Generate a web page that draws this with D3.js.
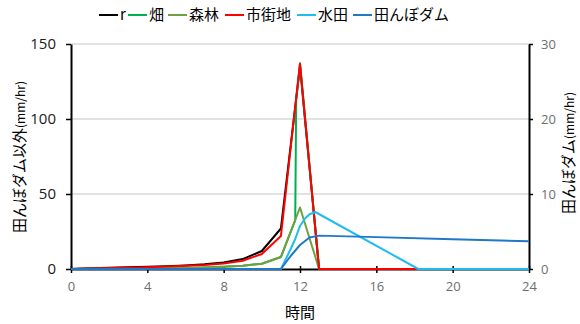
<!DOCTYPE html>
<html>
<head>
<meta charset="utf-8">
<script src="https://cdn.jsdelivr.net/npm/d3@7"></script>
<style>
  body { margin: 0; background: #fff; }
  svg { display: block; font-family: "Noto Sans CJK JP", "Noto Sans", sans-serif; }
</style>
</head>
<body>
<svg id="chart" width="580" height="324"></svg>
<script>
// Hourly time axis shared by the hourly series
const hours = [0,1,2,3,4,5,6,7,8,9,10,11,12,13,14,15,16,17,18,19,20,21,22,23,24];

// r : rainfall (mm/hr)
const rValues = [0,0.5,0.8,1.1,1.5,1.9,2.4,3.1,4.3,6.6,12,27,135,0,0,0,0,0,0,0,0,0,0,0,0];

// 森林 (forest) runoff
const forestValues = [0,0.1,0.2,0.3,0.4,0.5,0.7,1.0,1.5,2.2,3.5,8,41,0,0,0,0,0,0,0,0,0,0,0,0];

// 市街地 (urban) runoff
const urbanValues = [0,0.3,0.6,0.9,1.2,1.6,2.1,2.7,3.6,5.5,10,22,137,0,0,0,0,0,0,0,0,0,0,0,0];

// 畑 (field) runoff
const fieldTimes  = [0,1,2,3,4,5,6,7,8,9,10,11,11.75,11.8,12,13,24];
const fieldValues = [0,0.1,0.2,0.3,0.4,0.5,0.7,1.0,1.5,2.2,3.5,8,32.5,113,137,0,0];

// 水田 (paddy) runoff
const paddyTimes  = [0,11,11.25,11.5,11.75,12,12.25,12.5,12.8,18.2,24];
const paddyValues = [0,0,6.5,13,20,28.7,33.5,36.5,38,0,0];

// 田んぼダム (paddy dam) runoff, right axis
const damTimes  = [0,11,11.5,12,12.5,13,16,20,24];
const damValues = [0,0,1.7,3.2,4.2,4.45,4.25,3.98,3.7];

// Axis ticks
const xTicks = [0,4,8,12,16,20,24];
const yLeftTicks = [0,50,100,150];
const yRightTicks = [0,10,20,30];

const seriesNames  = ["r","畑","森林","市街地","水田","田んぼダム"];
const seriesColors = ["#000000","#00b050","#70a040","#ff0000","#1ebcf0","#1f78c8"];

const svg = d3.select("#chart");
const plot = { left: 71, right: 529, top: 44, bottom: 269 };

const x = d3.scaleLinear().domain([0,24]).range([plot.left, plot.right]);
const yL = d3.scaleLinear().domain([0,150]).range([plot.bottom, plot.top]);
const yR = d3.scaleLinear().domain([0,30]).range([plot.bottom, plot.top]);

// Horizontal gridlines
svg.append("g")
  .selectAll("line")
  .data(yLeftTicks.filter(d => d > 0))
  .join("line")
  .attr("x1", plot.left).attr("x2", plot.right)
  .attr("y1", d => yL(d)).attr("y2", d => yL(d))
  .attr("stroke", "#d9d9d9").attr("stroke-width", 1.3);

// X axis
const xAxis = svg.append("g")
  .attr("transform", `translate(0,${plot.bottom})`)
  .call(d3.axisBottom(x).tickValues(xTicks).tickSizeInner(4).tickSizeOuter(0).tickPadding(9));
xAxis.select(".domain").attr("stroke", "#000").attr("stroke-width", 2);
xAxis.selectAll(".tick line").attr("stroke", "#000").attr("stroke-width", 1.5).attr("y1", -3);
xAxis.selectAll(".tick text").attr("fill", "#6e6e6e").style("font-size", "13px")
  .style("font-family", "'Open Sans', sans-serif");

// Left Y axis
const yAxisL = svg.append("g")
  .attr("transform", `translate(${plot.left},0)`)
  .call(d3.axisLeft(yL).tickValues(yLeftTicks).tickSizeInner(5).tickSizeOuter(0).tickPadding(10));
yAxisL.select(".domain").attr("stroke", "#000").attr("stroke-width", 2);
yAxisL.selectAll(".tick line").attr("stroke", "#000").attr("stroke-width", 1.5);
yAxisL.selectAll(".tick text").attr("fill", "#1a1a1a").style("font-size", "15px")
  .style("font-family", "'Open Sans', sans-serif");

// Right Y axis
const yAxisR = svg.append("g")
  .attr("transform", `translate(${plot.right},0)`)
  .call(d3.axisRight(yR).tickValues(yRightTicks).tickSizeInner(4).tickSizeOuter(0).tickPadding(8));
yAxisR.select(".domain").attr("stroke", "#000").attr("stroke-width", 2);
yAxisR.selectAll(".tick line").attr("stroke", "#000").attr("stroke-width", 1.5);
yAxisR.selectAll(".tick text").attr("fill", "#6e6e6e").style("font-size", "13px")
  .style("font-family", "'Open Sans', sans-serif");

// Series lines
const lineL = d3.line().x(d => x(d[0])).y(d => yL(d[1]));
const lineR = d3.line().x(d => x(d[0])).y(d => yR(d[1]));

const series = [
  { pts: d3.zip(hours, rValues),           gen: lineL },
  { pts: d3.zip(fieldTimes, fieldValues),  gen: lineL },
  { pts: d3.zip(hours, forestValues),      gen: lineL },
  { pts: d3.zip(hours, urbanValues),       gen: lineL },
  { pts: d3.zip(paddyTimes, paddyValues),  gen: lineL },
  { pts: d3.zip(damTimes, damValues),      gen: lineR }
];

svg.append("g")
  .selectAll("path")
  .data(series)
  .join("path")
  .attr("d", d => d.gen(d.pts))
  .attr("fill", "none")
  .attr("stroke", (d, i) => seriesColors[i])
  .attr("stroke-width", 2)
  .attr("stroke-linejoin", "round");

// Legend
const legendX = [99, 128, 168, 225, 297, 353];
const legend = svg.append("g");
seriesNames.forEach((name, i) => {
  legend.append("line")
    .attr("x1", legendX[i]).attr("x2", legendX[i] + 19)
    .attr("y1", 15).attr("y2", 15)
    .attr("stroke", seriesColors[i]).attr("stroke-width", 2);
  legend.append("text")
    .attr("x", legendX[i] + 21).attr("y", 15)
    .attr("dy", "0.35em")
    .style("font-size", "15px")
    .attr("fill", "#000")
    .text(name);
});

// Axis titles
svg.append("text")
  .attr("transform", `translate(20,157) rotate(-90)`)
  .attr("text-anchor", "middle").attr("dy", "0.35em")
  .style("font-size", "15px").attr("fill", "#000")
  .call(t => {
    t.append("tspan").text("田んぼダム以外");
    t.append("tspan").style("font-size", "12px").text("(mm/hr)");
  });

svg.append("text")
  .attr("transform", `translate(569,153) rotate(-90)`)
  .attr("text-anchor", "middle").attr("dy", "0.35em")
  .style("font-size", "15px").attr("fill", "#000")
  .call(t => {
    t.append("tspan").text("田んぼダム");
    t.append("tspan").style("font-size", "12px").text("(mm/hr)");
  });

svg.append("text")
  .attr("x", 300).attr("y", 313)
  .attr("text-anchor", "middle").attr("dy", "0.35em")
  .style("font-size", "15px").attr("fill", "#000")
  .text("時間");
</script>
</body>
</html>
